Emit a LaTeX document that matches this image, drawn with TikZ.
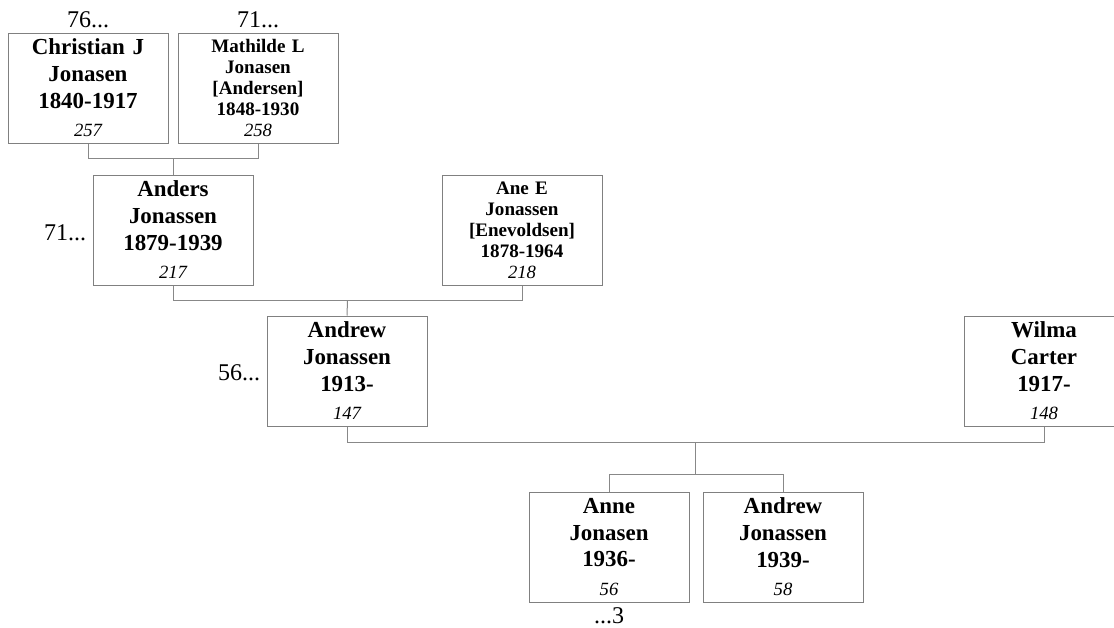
\documentclass[tikz,border=0pt]{standalone}
\usepackage{fontspec}
\setmainfont{Liberation Serif}
\usepackage{xcolor}
\usepackage{tikz}
\usetikzlibrary{positioning, calc}
\definecolor{boxgray}{RGB}{128, 128, 128}
\definecolor{linkgray}{RGB}{136, 136, 136}

\newcommand{\pname}{\fontsize{17.2}{20}\selectfont\bfseries}
\newcommand{\sname}{\fontsize{14.3}{15.75}\selectfont\bfseries}
\newcommand{\idnum}{\fontsize{14}{16}\selectfont\mdseries\itshape}
\newcommand{\tagfont}{\fontsize{18}{20}\selectfont}

\tikzset{
    person/.style={draw=boxgray, line width=0.75pt, minimum width=120pt,
                   minimum height=82.5pt, text width=112pt, align=center,
                   inner sep=0pt, font=\pname},
    smallperson/.style={person, font=\sname},
    link/.style={draw=linkgray, line width=0.75pt},
    tag/.style={inner sep=0pt, font=\tagfont}
}

\begin{document}
\begin{tikzpicture}[x=0.75pt, y=-0.75pt]
    \useasboundingbox (0,0) rectangle (1114,628);

    \node[person] (christian) at (88,88) {Christian J\\Jonasen\\1840-1917\\[1.5pt]{\idnum 257}};
    \node[smallperson] (mathilde) at (258,88) {Mathilde L\\Jonasen\\{[Andersen]}\\1848-1930\\{\idnum 258}};
    \node[person] (anders) at (173,230) {Anders\\Jonassen\\1879-1939\\[1.5pt]{\idnum 217}};
    \node[smallperson] (ane) at (522,230) {Ane E\\Jonassen\\{[Enevoldsen]}\\1878-1964\\{\idnum 218}};
    \node[person] (andrew) at (347,371) {Andrew\\Jonassen\\1913-\\[1.5pt]{\idnum 147}};
    \node[person] (wilma) at (1044,371) {Wilma\\Carter\\1917-\\[1.5pt]{\idnum 148}};
    \node[person] (anne) at (609,547) {Anne\\Jonasen\\1936-\\[1.5pt]{\idnum 56}};
    \node[person] (andrewjr) at (783,547) {Andrew\\Jonassen\\1939-\\[1.5pt]{\idnum 58}};

    \node[tag, above=3.5pt of christian] (christianup) {76...};
    \node[tag, above=3.5pt of mathilde] (mathildeup) {71...};
    \node[tag, left=4.5pt of anders, yshift=-2pt] (andersup) {71...};
    \node[tag, left=4.5pt of andrew, yshift=-1.5pt] (andrewup) {56...};
    \node[tag, below=3.5pt of anne] (annedown) {...3};

    \coordinate (fam1) at ($(christian.south)!0.5!(mathilde.south) + (0,15)$);
    \coordinate (fam2) at ($(anders.south)!0.5!(ane.south) + (0,15)$);
    \coordinate (fam3) at ($(andrew.south)!0.5!(wilma.south) + (0,16)$);
    \coordinate (kids) at ($(fam3) + (0,32)$);

    \draw[link] (christian.south) |- (fam1) -| (mathilde.south);
    \draw[link] (fam1) -- (anders.north);
    \draw[link] (anders.south) |- (fam2) -| (ane.south);
    \draw[link] (fam2) -- (andrew.north);
    \draw[link] (andrew.south) |- (fam3) -| (wilma.south);
    \draw[link] (fam3) -- (kids);
    \draw[link] (anne.north) |- (kids) -| (andrewjr.north);
\end{tikzpicture}
\end{document}
